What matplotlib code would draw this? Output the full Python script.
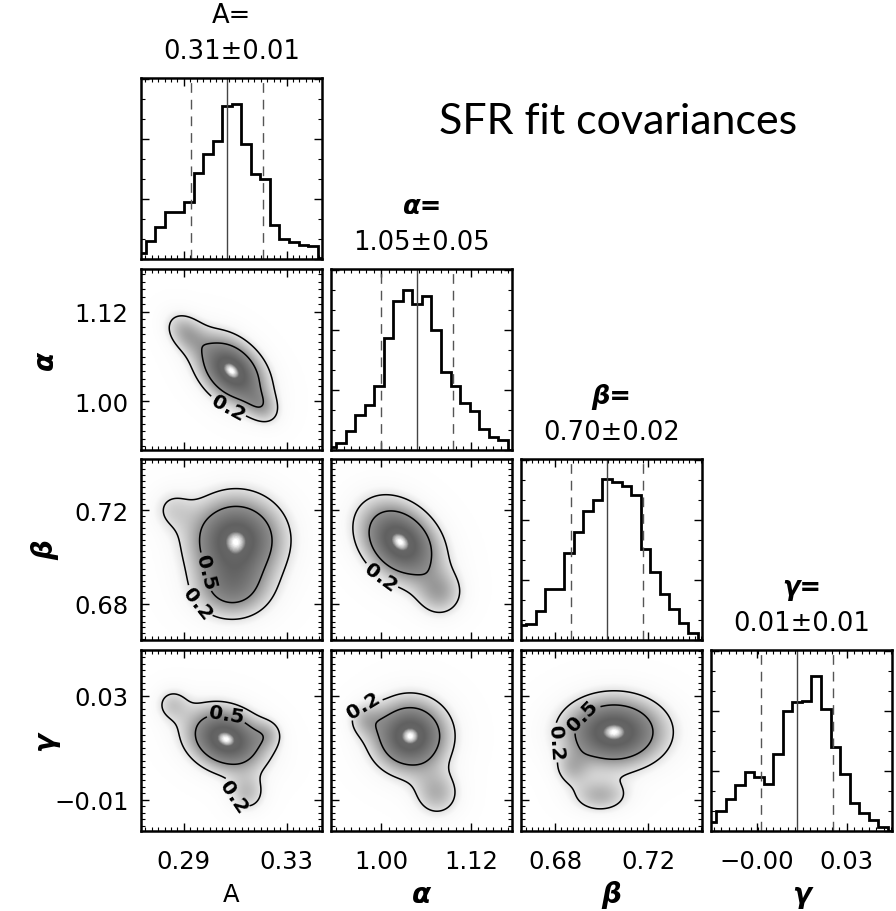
import numpy as np
import matplotlib
matplotlib.use("Agg")
import matplotlib.pyplot as plt
from matplotlib.colors import LinearSegmentedColormap
from matplotlib.ticker import FixedLocator, MultipleLocator, FuncFormatter, NullFormatter

# ---------------- data ----------------
names = ["A", "α", "β", "γ"]
title_values = ["0.31±0.01", "1.05±0.05", "0.70±0.02", "0.01±0.01"]
medians = [0.3068, 1.0482, 0.7023, 0.01315]
lower_1sig = [0.2928, 0.9999, 0.6869, 0.00095]
upper_1sig = [0.3208, 1.0964, 0.7177, 0.02536]

# histogram ranges (bin edges span) and counts (20 bins each)
hist_range_A = (0.2715, 0.3458)
hist_range_alpha = (0.9269, 1.1821)
hist_range_beta = (0.6635, 0.7453)
hist_range_gamma = (-0.0175, 0.0471)
counts_A = [18, 55, 95, 140, 142, 172, 257, 313, 352, 458, 463, 344, 255, 240, 103, 60, 50, 43, 38, 2]
counts_alpha = [8, 20, 56, 106, 136, 191, 335, 446, 478, 436, 460, 358, 235, 191, 140, 116, 63, 38, 30, 0]
counts_beta = [45, 47, 88, 152, 152, 262, 322, 387, 420, 483, 472, 460, 435, 273, 205, 137, 93, 50, 22, 0]
counts_gamma = [27, 60, 97, 139, 177, 162, 142, 232, 359, 387, 390, 465, 365, 252, 170, 84, 55, 32, 12, 0]
hist_ranges = [hist_range_A, hist_range_alpha, hist_range_beta, hist_range_gamma]
hist_counts = [counts_A, counts_alpha, counts_beta, counts_gamma]

# axis ranges and tick values
xlims = [(0.2733, 0.3438), (0.933, 1.175), (0.6654, 0.7430), (-0.0160, 0.0453)]
ylims = [None, (0.9348, 1.1772), (0.6646, 0.7419), (-0.0220, 0.0477)]
xticks = [[0.29, 0.33], [1.00, 1.12], [0.68, 0.72], [-0.0005, 0.03]]
yticks = [None, [1.00, 1.12], [0.68, 0.72], [-0.01, 0.03]]
minor_steps = [0.0025, 0.01, 0.0025, 0.0025]

# 2-D posterior density components (x-centre, y-centre, sx, sy, rho, weight)
dens_alpha_A = [(0.3085, 1.0410, 0.00893, 0.0307, -0.38, 1.0),
                (0.2905, 1.0928, 0.00545, 0.0187, -0.30, 0.35),
                (0.3204, 0.9924, 0.00470, 0.0161, -0.30, 0.28)]
dens_beta_A = [(0.3103, 0.7075, 0.01200, 0.0122, 0.0, 1.0),
               (0.3087, 0.6855, 0.0101, 0.00854, 0.0, 0.50),
               (0.2854, 0.7206, 0.0058, 0.0064, 0.0, 0.20)]
dens_beta_alpha = [(1.0254, 0.7065, 0.0352, 0.01123, -0.30, 1.0),
                   (1.0790, 0.6843, 0.0214, 0.00683, 0.0, 0.35)]
dens_gamma_A = [(0.3064, 0.0134, 0.0101, 0.0081, -0.2, 1.0),
                (0.3146, -0.0077, 0.0051, 0.0050, 0.0, 0.30),
                (0.2854, 0.0269, 0.0047, 0.0046, 0.0, 0.25),
                (0.3228, 0.0154, 0.0039, 0.0039, 0.0, 0.20)]
dens_gamma_alpha = [(1.0388, 0.0146, 0.0335, 0.00924, 0.0, 1.0),
                    (1.0749, -0.0077, 0.0214, 0.0062, 0.0, 0.35),
                    (0.9785, 0.0211, 0.0161, 0.0046, 0.0, 0.25)]
dens_gamma_beta = [(0.7053, 0.0161, 0.01416, 0.00886, 0.0, 1.0),
                   (0.6993, -0.0085, 0.00858, 0.00462, 0.0, 0.35),
                   (0.6873, 0.0019, 0.00515, 0.00462, 0.0, 0.25)]
densities = {(1, 0): dens_alpha_A, (2, 0): dens_beta_A, (2, 1): dens_beta_alpha,
             (3, 0): dens_gamma_A, (3, 1): dens_gamma_alpha, (3, 2): dens_gamma_beta}
contour_levels = [0.2, 0.5]
# contour label anchor points (data coords) per panel: level -> list of points
clabel_pos = {(1, 0): {0.2: [(0.3068, 0.9897)]},
              (2, 0): {0.5: [(0.2982, 0.6936)], 0.2: [(0.2982, 0.6830)]},
              (2, 1): {0.2: [(0.9879, 0.6864)]},
              (3, 0): {0.5: [(0.3068, 0.0238)], 0.2: [(0.3068, -0.0097)]},
              (3, 1): {0.2: [(0.9785, 0.0250)]},
              (3, 2): {0.2: [(0.6770, 0.0115)], 0.5: [(0.6920, 0.0223)]}}

# ---------------- figure ----------------
plt.rcParams["font.family"] = ["DejaVu Sans"]
W, H = 896, 912
fig = plt.figure(figsize=(W / 100, H / 100), dpi=100)
col_left = [141, 331, 521, 711]
row_top = [79, 270, 460, 651]
size = 181

cmap = LinearSegmentedColormap.from_list(
    "idlgray",
    [(0.0, (1, 1, 1)), (0.10, (0.98, 0.98, 0.98)), (0.2, (0.88, 0.88, 0.88)),
     (0.5, (0.56, 0.56, 0.56)), (0.85, (0.38, 0.38, 0.38)), (0.95, (0.40, 0.40, 0.40)),
     (0.99, (0.85, 0.85, 0.85)), (1.0, (1, 1, 1))])

fmt = FuncFormatter(lambda v, p: f"{v:.2f}".replace("-", "\u2212"))
TICKFS = 17.5
TITLEFS = 18.5


def style(ax):
    for s in ax.spines.values():
        s.set_linewidth(1.8)
    ax.tick_params(which="both", direction="in", top=True, right=True, labelsize=TICKFS)
    ax.tick_params(which="major", length=6, width=1.0)
    ax.tick_params(which="minor", length=3, width=0.8)
    ax.tick_params(axis="x", pad=13)
    ax.tick_params(axis="y", pad=9)


def density(comps, X, Y):
    Z = np.zeros_like(X)
    for cx, cy, sx, sy, rho, w in comps:
        dx = (X - cx) / sx
        dy = (Y - cy) / sy
        q = (dx ** 2 - 2 * rho * dx * dy + dy ** 2) / (1 - rho ** 2)
        Z += w * np.exp(-0.5 * q)
    return Z / Z.max()


for r in range(4):
    for c in range(r + 1):
        ax = fig.add_axes([col_left[c] / W, 1 - (row_top[r] + size) / H, size / W, size / H])
        style(ax)
        ax.set_xlim(*xlims[c])
        ax.xaxis.set_major_locator(FixedLocator(xticks[c]))
        ax.xaxis.set_minor_locator(MultipleLocator(minor_steps[c]))
        ax.xaxis.set_major_formatter(fmt)
        if r != 3:
            ax.xaxis.set_major_formatter(NullFormatter())
        if r == c:
            lo_e, hi_e = hist_ranges[c]
            edges = np.linspace(lo_e, hi_e, len(hist_counts[c]) + 1)
            ax.stairs(hist_counts[c], edges, baseline=None, color="black", lw=2.0)
            ax.set_ylim(0, 542)
            ax.yaxis.set_major_locator(MultipleLocator(180))
            ax.yaxis.set_minor_locator(MultipleLocator(60))
            ax.yaxis.set_major_formatter(NullFormatter())
            ax.axvline(medians[c], color="#444444", lw=1.0)
            for v in (lower_1sig[c], upper_1sig[c]):
                ax.axvline(v, color="#555555", lw=1.0, ls=(0, (7, 5)))
            ax.text(0.5, 1.15, title_values[c], transform=ax.transAxes,
                    ha="center", va="center", fontsize=TITLEFS)
            if c == 0:
                ax.text(0.5, 1.35, names[c] + "=", transform=ax.transAxes,
                        ha="center", va="center", fontsize=TITLEFS)
            else:
                ax.text(0.5, 1.35, names[c] + "=", transform=ax.transAxes,
                        ha="center", va="center", fontsize=TITLEFS,
                        fontweight="bold", fontstyle="italic")
        else:
            ax.set_ylim(*ylims[r])
            ax.yaxis.set_major_locator(FixedLocator(yticks[r]))
            ax.yaxis.set_minor_locator(MultipleLocator(minor_steps[r]))
            ax.yaxis.set_major_formatter(fmt)
            if c != 0:
                ax.yaxis.set_major_formatter(NullFormatter())
            xs = np.linspace(*xlims[c], 240)
            ys = np.linspace(*ylims[r], 240)
            X, Y = np.meshgrid(xs, ys)
            Z = density(densities[(r, c)], X, Y)
            ax.imshow(Z, extent=[*xlims[c], *ylims[r]], origin="lower", cmap=cmap,
                      vmin=0, vmax=1, aspect="auto", interpolation="bilinear")
            for lev in contour_levels:
                cs = ax.contour(X, Y, Z, levels=[lev], colors="black", linewidths=1.1)
                pts = clabel_pos[(r, c)].get(lev)
                if pts:
                    ax.clabel(cs, manual=pts, inline=True, fmt="%.1f",
                              fontsize=14.5, inline_spacing=4)
                    for t in cs.labelTexts:
                        t.set_fontweight("bold")
            ax.set_xlim(*xlims[c])
            ax.set_ylim(*ylims[r])

# axis labels
for r in (1, 2, 3):
    yc = row_top[r] + size / 2
    fig.text(45 / W, 1 - yc / H, names[r], rotation=90, ha="center", va="center",
             fontsize=20, fontweight="bold", fontstyle="italic")
for c in range(4):
    xc = col_left[c] + size / 2
    if c == 0:
        fig.text(xc / W, 1 - 895 / H, names[c], ha="center", va="center", fontsize=17.5)
    else:
        fig.text(xc / W, 1 - 895 / H, names[c], ha="center", va="center", fontsize=20,
                 fontweight="bold", fontstyle="italic")

fig.text(618 / W, 1 - 122 / H, "SFR fit covariances", ha="center", va="center",
         fontsize=31, family=["Lato", "DejaVu Sans"])

fig.savefig("out.png", dpi=100)
